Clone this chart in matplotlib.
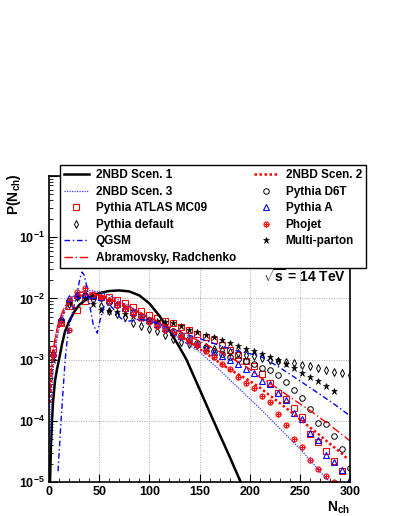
import numpy as np
import matplotlib
matplotlib.use("Agg")
import matplotlib.pyplot as plt
from matplotlib.ticker import FixedLocator, FuncFormatter, LogLocator, MultipleLocator, NullFormatter
from matplotlib.legend_handler import HandlerTuple

plt.rcParams['font.family'] = ['Liberation Sans', 'DejaVu Sans']
plt.rcParams['font.weight'] = 'bold'
plt.rcParams['mathtext.fontset'] = 'custom'
plt.rcParams['mathtext.rm'] = 'Liberation Sans:bold'
plt.rcParams['mathtext.bf'] = 'Liberation Sans:bold'
plt.rcParams['mathtext.it'] = 'Liberation Sans:bold'

nan = np.nan

# ---- marker series (N bins) ----
n_bins = list(range(4, 301, 8))

pythia_atlas = [1.5e-3, 4.0e-3, 7.5e-3, 6.5e-3, 9.0e-3, 1.1e-2, 1.15e-2, 1.05e-2, 9.5e-3, 8.3e-3,
                7.3e-3, 6.3e-3, 5.4e-3, 4.7e-3, 4.2e-3, 3.9e-3, 3.4e-3, 3.0e-3, 2.6e-3, 2.3e-3,
                2.1e-3, 1.7e-3, 1.45e-3, 1.2e-3, 9.6e-4, 8.0e-4, 5.9e-4, 4.2e-4, 2.8e-4, 2.3e-4,
                1.6e-4, 1.15e-4, 6.0e-5, 4.5e-5, 3.2e-5, 2.2e-5, 1.5e-5, nan]
pythia_d6t = [1.2e-3, 4.5e-3, 9.0e-3, 1.1e-2, 1.15e-2, 1.1e-2, 1.0e-2, 8.8e-3, 7.8e-3, 6.8e-3,
              5.9e-3, 5.1e-3, 4.5e-3, 3.9e-3, 3.4e-3, 2.9e-3, 2.5e-3, 2.15e-3, 1.85e-3, 1.6e-3,
              1.4e-3, 1.25e-3, 1.12e-3, 1.02e-3, 9.4e-4, 8.5e-4, 7.4e-4, 6.7e-4, 5.6e-4, 4.3e-4,
              3.2e-4, 2.4e-4, 1.55e-4, 9.3e-5, 8.7e-5, 5.6e-5, 3.5e-5, 1.7e-5]
pythia_default = [1.3e-3, 4.5e-3, 8.0e-3, 1.05e-2, 1.1e-2, 9.5e-3, 7.5e-3, 6.3e-3, 5.6e-3, 5.0e-3,
                  4.0e-3, 3.5e-3, 3.2e-3, 2.9e-3, 2.5e-3, 2.2e-3, 1.95e-3, 1.8e-3, 1.7e-3, 1.6e-3,
                  1.5e-3, 1.42e-3, 1.35e-3, 1.28e-3, 1.2e-3, 1.13e-3, 1.06e-3, 1.0e-3, 9.5e-4, 9.2e-4,
                  8.7e-4, 8.2e-4, 8.0e-4, 7.4e-4, 6.8e-4, 6.2e-4, 6.0e-4, 5.5e-4]
multi_parton = [1.0e-3, 4.5e-3, 8.5e-3, 1.05e-2, 1.0e-2, 8.0e-3, 6.5e-3, 6.2e-3, 5.9e-3, 5.6e-3,
                5.2e-3, 4.8e-3, 4.5e-3, 4.3e-3, 4.1e-3, 3.9e-3, 3.5e-3, 3.1e-3, 2.8e-3, 2.55e-3,
                2.3e-3, 2.1e-3, 1.85e-3, 1.65e-3, 1.5e-3, 1.38e-3, 1.23e-3, 1.1e-3, 9.8e-4, 8.5e-4,
                7.2e-4, 6.1e-4, 5.2e-4, 4.5e-4, 3.7e-4, 3.1e-4, nan, nan]
pythia_a = [1.3e-3, 4.8e-3, 1.0e-2, 1.15e-2, 1.2e-2, 1.15e-2, 1.05e-2, 9.3e-3, 8.0e-3, 7.0e-3,
            6.0e-3, 5.0e-3, 4.4e-3, 3.8e-3, 3.3e-3, 2.8e-3, 2.4e-3, 2.1e-3, 1.8e-3, 1.55e-3,
            1.35e-3, 1.15e-3, 1.0e-3, 8.5e-4, 7.0e-4, 6.0e-4, 4.5e-4, 4.0e-4, 2.8e-4, 2.2e-4,
            1.35e-4, 1.07e-4, 6.3e-5, 4.8e-5, 2.8e-5, 2.1e-5, 1.6e-5, 1.1e-5]
phojet = [1.2e-3, 4.0e-3, 3.0e-3, 1.25e-2, 1.5e-2, 1.2e-2, 1.05e-2, 9.0e-3, 7.8e-3, 6.6e-3,
          5.6e-3, 4.8e-3, 4.1e-3, 3.6e-3, 3.1e-3, 2.6e-3, 2.3e-3, 2.0e-3, 1.75e-3, 1.4e-3,
          1.12e-3, 8.5e-4, 7.0e-4, 5.2e-4, 4.2e-4, 3.4e-4, 2.5e-4, 2.0e-4, 1.3e-4, 8.5e-5,
          5.0e-5, 3.7e-5, 2.3e-5, 1.65e-5, 1.25e-5, 1.0e-5, nan, nan]

# ---- curves ----
nbd1_n = [1, 2, 3, 4, 6, 8, 10, 13, 16, 20, 25, 30, 40, 50, 60, 70, 80, 90, 100, 110, 120, 130,
          137, 150, 160, 170, 180, 191]
nbd1_p = [1e-5, 4e-5, 1e-4, 2e-4, 4.5e-4, 7e-4, 1e-3, 1.8e-3, 2.9e-3, 4.2e-3, 6.0e-3, 7.8e-3,
          1.05e-2, 1.22e-2, 1.32e-2, 1.35e-2, 1.3e-2, 1.12e-2, 8.3e-3, 5.2e-3, 3.0e-3, 1.6e-3,
          1.0e-3, 3.3e-4, 1.4e-4, 6.0e-5, 2.6e-5, 1.0e-5]

nbd2_n = [1, 2, 3, 5, 8, 10, 15, 20, 25, 30, 40, 50, 60, 70, 80, 90, 100, 110, 120, 130, 140, 150,
          160, 170, 180, 190, 200, 210, 220, 230, 240, 250, 260, 270, 280, 290, 298]
nbd2_p = [2e-4, 4e-4, 8e-4, 1.5e-3, 2.8e-3, 3.8e-3, 6.0e-3, 8.3e-3, 1.0e-2, 1.1e-2, 1.17e-2,
          1.12e-2, 1.0e-2, 8.6e-3, 7.2e-3, 5.9e-3, 4.8e-3, 3.9e-3, 3.1e-3, 2.5e-3, 1.95e-3, 1.5e-3,
          1.15e-3, 8.9e-4, 6.9e-4, 5.6e-4, 4.5e-4, 3.5e-4, 2.6e-4, 1.95e-4, 1.45e-4, 1.07e-4,
          7.8e-5, 5.8e-5, 4.2e-5, 3.1e-5, 2.35e-5]

nbd3_n = [1, 2, 3, 5, 8, 10, 15, 20, 25, 30, 40, 50, 60, 70, 80, 90, 100, 110, 120, 130, 140, 150,
          160, 170, 180, 190, 200, 210, 220, 230, 240, 250, 260, 270, 280]
nbd3_p = [4e-5, 1.5e-4, 4e-4, 1e-3, 2.2e-3, 3.2e-3, 6.0e-3, 8.8e-3, 1.1e-2, 1.25e-2, 1.35e-2,
          1.28e-2, 1.12e-2, 9.3e-3, 7.5e-3, 6.0e-3, 4.7e-3, 3.7e-3, 2.9e-3, 2.2e-3, 1.7e-3, 1.35e-3,
          9.5e-4, 6.8e-4, 4.7e-4, 3.3e-4, 2.3e-4, 1.6e-4, 1.1e-4, 7.5e-5, 5.1e-5, 3.5e-5, 2.3e-5,
          1.5e-5, 1.0e-5]

qgsm_n = [9, 12, 16, 19, 24, 28, 31, 33, 35, 38, 41, 44, 48, 51, 55, 60, 65, 70, 76, 82, 90, 100,
          110, 120, 130, 140, 150, 160, 170, 180, 190, 200, 210, 220, 230, 240, 250, 260, 270, 280,
          290, 300]
qgsm_p = [1.5e-5, 1e-4, 9.5e-4, 2.9e-3, 6.5e-3, 1.2e-2, 2.2e-2, 2.7e-2, 2.4e-2, 1.5e-2, 7e-3,
          3.8e-3, 2.7e-3, 4.5e-3, 7.5e-3, 8.0e-3, 6.5e-3, 5.0e-3, 4.2e-3, 4.3e-3, 4.6e-3, 4.3e-3,
          3.8e-3, 3.3e-3, 2.9e-3, 2.5e-3, 2.2e-3, 1.95e-3, 1.7e-3, 1.5e-3, 1.35e-3, 1.25e-3,
          1.15e-3, 9.3e-4, 7.4e-4, 5.8e-4, 4.5e-4, 3.5e-4, 2.7e-4, 2.1e-4, 1.6e-4, 1.2e-4]

abr_n = [1, 2, 4, 6, 8, 10, 15, 20, 25, 30, 35, 40, 50, 60, 70, 80, 90, 100, 110, 120, 130, 140,
         150, 160, 170, 180, 190, 200, 210, 220, 230, 240, 250, 260, 270, 280, 290, 300]
abr_p = [3e-4, 6e-4, 1.3e-3, 2.2e-3, 3.2e-3, 4.3e-3, 7.0e-3, 9.5e-3, 1.15e-2, 1.25e-2, 1.28e-2,
         1.25e-2, 1.12e-2, 9.8e-3, 8.4e-3, 7.0e-3, 5.9e-3, 4.9e-3, 4.1e-3, 3.4e-3, 2.85e-3,
         2.4e-3, 2.0e-3, 1.65e-3, 1.35e-3, 1.1e-3, 8.9e-4, 7.0e-4, 5.2e-4, 4.1e-4, 3.2e-4,
         2.45e-4, 1.9e-4, 1.48e-4, 1.12e-4, 8.5e-5, 6.3e-5, 4.7e-5]

x_ticks = [0, 50, 100, 150, 200, 250, 300]
y_decades = [-5, -4, -3, -2, -1]

RED = '#ff0000'
BLUE = '#0000ff'

fig = plt.figure(figsize=(3.99, 5.16), dpi=100)
ax = fig.add_axes([0.1228, 0.0659, 0.7544, 0.593])
ax.set_yscale('log')
ax.set_xlim(0, 300)
ax.set_ylim(1e-5, 1)

# markers
h_atlas, = ax.plot(n_bins, pythia_atlas, ls='none', marker='s', ms=4.3, mfc='none', mec=RED, mew=0.8)
h_d6t, = ax.plot(n_bins, pythia_d6t, ls='none', marker='o', ms=4.0, mfc='none', mec='black', mew=0.7)
h_def, = ax.plot(n_bins, pythia_default, ls='none', marker='d', ms=3.6, mfc='none', mec='black', mew=0.7)
h_mp, = ax.plot(n_bins, multi_parton, ls='none', marker='*', ms=5.0, mfc='black', mec='black', mew=0.4)
h_a, = ax.plot(n_bins, pythia_a, ls='none', marker='^', ms=4.2, mfc='none', mec=BLUE, mew=0.8)
h_ph1, = ax.plot(n_bins, phojet, ls='none', marker='o', ms=3.6, mfc='none', mec=RED, mew=0.8)
h_ph2, = ax.plot(n_bins, phojet, ls='none', marker='+', ms=3.6, mec=RED, mew=0.8)

# curves
h_n1, = ax.plot(nbd1_n, nbd1_p, color='black', lw=1.8)
h_n2, = ax.plot(nbd2_n, nbd2_p, color=RED, lw=1.8, ls=(0, (1, 1)))
h_n3, = ax.plot(nbd3_n, nbd3_p, color='#3a3aff', lw=0.9, ls=(0, (1, 1)))
h_q, = ax.plot(qgsm_n, qgsm_p, color=BLUE, lw=1.0, ls=(0, (4, 2, 1, 2)))
h_ab, = ax.plot(abr_n, abr_p, color=RED, lw=1.0, ls=(0, (6, 2, 1, 2)))

# axes styling
for s in ax.spines.values():
    s.set_linewidth(1.2)
ax.xaxis.set_major_locator(FixedLocator(x_ticks))
ax.xaxis.set_minor_locator(MultipleLocator(10))
ax.set_xticklabels([str(v) for v in x_ticks])
ax.yaxis.set_major_locator(FixedLocator([10.0 ** d for d in y_decades] + [1.0]))
ax.yaxis.set_major_formatter(FuncFormatter(
    lambda v, p: (r'$\mathbf{10^{%d}}$' % int(round(np.log10(v)))) if v < 0.5 else ''))
ax.yaxis.set_minor_locator(LogLocator(base=10, subs=np.arange(2, 10), numticks=20))
ax.yaxis.set_minor_formatter(NullFormatter())
ax.tick_params(which='major', direction='in', length=6, width=0.8, labelsize=9, pad=3,
               top=False, right=False)
ax.tick_params(which='minor', direction='in', length=3, width=0.6, top=False, right=False)
for lab in ax.get_xticklabels():
    lab.set_fontweight('bold')
ax.grid(True, which='major', color='#aaaaaa', ls=(0, (1, 1.5)), lw=0.7)

ax.set_xlabel(r'N$_{\mathbf{ch}}$', fontsize=10, fontweight='bold', loc='right', labelpad=1)
ax.set_ylabel(r'P(N$_{\mathbf{ch}}$)', fontsize=10, fontweight='bold', loc='top')
ax.yaxis.set_label_coords(-0.085, 1.01)

ax.text(0.71, 0.67, r'$\sqrt{\mathbf{s}}$ = 14 TeV', transform=ax.transAxes, fontsize=10,
        fontweight='bold', ha='left', va='center')

handles = [h_n1, h_n3, h_atlas, h_def, h_q, h_ab, h_n2, h_d6t, h_a, (h_ph1, h_ph2), h_mp]
labels = ['2NBD Scen. 1', '2NBD Scen. 3', 'Pythia ATLAS MC09', 'Pythia default', 'QGSM',
          'Abramovsky, Radchenko', '2NBD Scen. 2', 'Pythia D6T', 'Pythia A', 'Phojet', 'Multi-parton']
leg = fig.legend(handles, labels, ncol=2, loc='upper left',
                 bbox_to_anchor=(0.150, 0.496, 0.767, 0.184), bbox_transform=fig.transFigure,
                 mode='expand', prop={'weight': 'bold', 'size': 8.5}, frameon=True, fancybox=False,
                 edgecolor='black', framealpha=1, handlelength=2.1, handletextpad=0.6,
                 labelspacing=0.38, borderpad=0.35, borderaxespad=0, columnspacing=1.0,
                 handler_map={tuple: HandlerTuple(ndivide=1)})
leg.get_frame().set_linewidth(1.0)

fig.savefig('out.png', dpi=100)
